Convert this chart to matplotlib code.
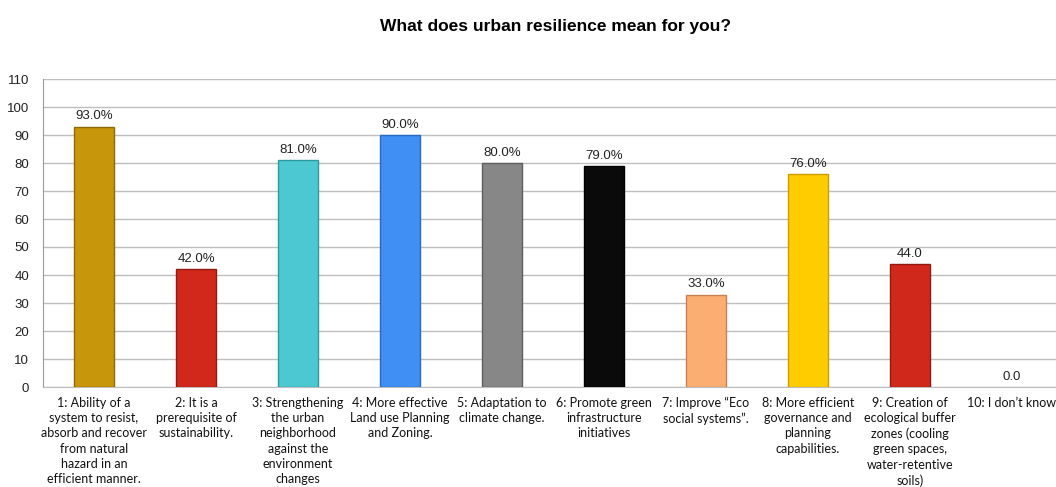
import matplotlib
matplotlib.use("Agg")
import matplotlib.pyplot as plt
from matplotlib.ticker import MultipleLocator

categories = [
    "1: Ability of a\nsystem to resist,\nabsorb and recover\nfrom natural\nhazard in an\nefficient manner.",
    "2: It is a\nprerequisite of\nsustainability.",
    "3: Strengthening\nthe urban\nneighborhood\nagainst the\nenvironment\nchanges",
    "4: More effective\nLand use Planning\nand Zoning.",
    "5: Adaptation to\nclimate change.",
    "6: Promote green\ninfrastructure\ninitiatives",
    "7: Improve \u201cEco\nsocial systems\u201d.",
    "8: More efficient\ngovernance and\nplanning\ncapabilities.",
    "9: Creation of\necological buffer\nzones (cooling\ngreen spaces,\nwater-retentive\nsoils)",
    "10: I don\u2019t know",
]
values = [93, 42, 81, 90, 80, 79, 33, 76, 44, 0]
value_labels = ["93.0%", "42.0%", "81.0%", "90.0%", "80.0%", "79.0%", "33.0%", "76.0%", "44.0", "0.0"]
colors = ["#C8960A", "#D0281A", "#4CC8D0", "#3F8FF5", "#878787", "#0A0A0A",
          "#FBAE72", "#FFCC00", "#D0281A", "#D0281A"]
edges = ["#8E6A05", "#8E1A10", "#2E9AA0", "#2A6AC0", "#5E5E5E", "#000000",
         "#C98050", "#C89E00", "#8E1A10", "none"]
title = "What does urban resilience mean for you?"

fig = plt.figure(figsize=(10.56, 4.87), dpi=100)
W, H = 1056, 487
left, right, top, bottom = 43, 1056, 79, 387
ax = fig.add_axes([left / W, 1 - bottom / H, (right - left) / W, (bottom - top) / H])

x = list(range(len(values)))
bars = ax.bar(x, values, width=0.4, color=colors, edgecolor=edges, linewidth=1.0, zorder=3)

for xi, v, lab in zip(x, values, value_labels):
    ax.annotate(lab, (xi, v), xytext=(0, 3), textcoords="offset points",
                ha="center", va="bottom", fontsize=9.5, family="Liberation Sans", color="#222222")

ax.set_xlim(-0.5, -0.5 + (right - left) / 102.0)
ax.set_ylim(0, 110)
ax.yaxis.set_major_locator(MultipleLocator(10))
ax.grid(axis="y", color="#BEBEBE", linewidth=1.0, zorder=0)
ax.set_axisbelow(True)
for s in ["top", "right"]:
    ax.spines[s].set_visible(False)
ax.spines["left"].set_color("#9A9A9A")
ax.spines["bottom"].set_color("#BEBEBE")
ax.tick_params(axis="y", length=0, labelsize=9.5, pad=10, colors="#222222")
ax.tick_params(axis="x", length=0, pad=7)
for t in ax.get_yticklabels():
    t.set_family("Liberation Sans")
ax.set_xticks(x)
ax.set_xticklabels(categories, fontsize=9, family="Lato", linespacing=1.33, color="#111111")

fig.text(555 / W, 1 - 27 / H, title, ha="center", va="center", fontsize=12.5,
         fontweight="bold", family="Liberation Sans")

fig.savefig("out.png", dpi=100)
